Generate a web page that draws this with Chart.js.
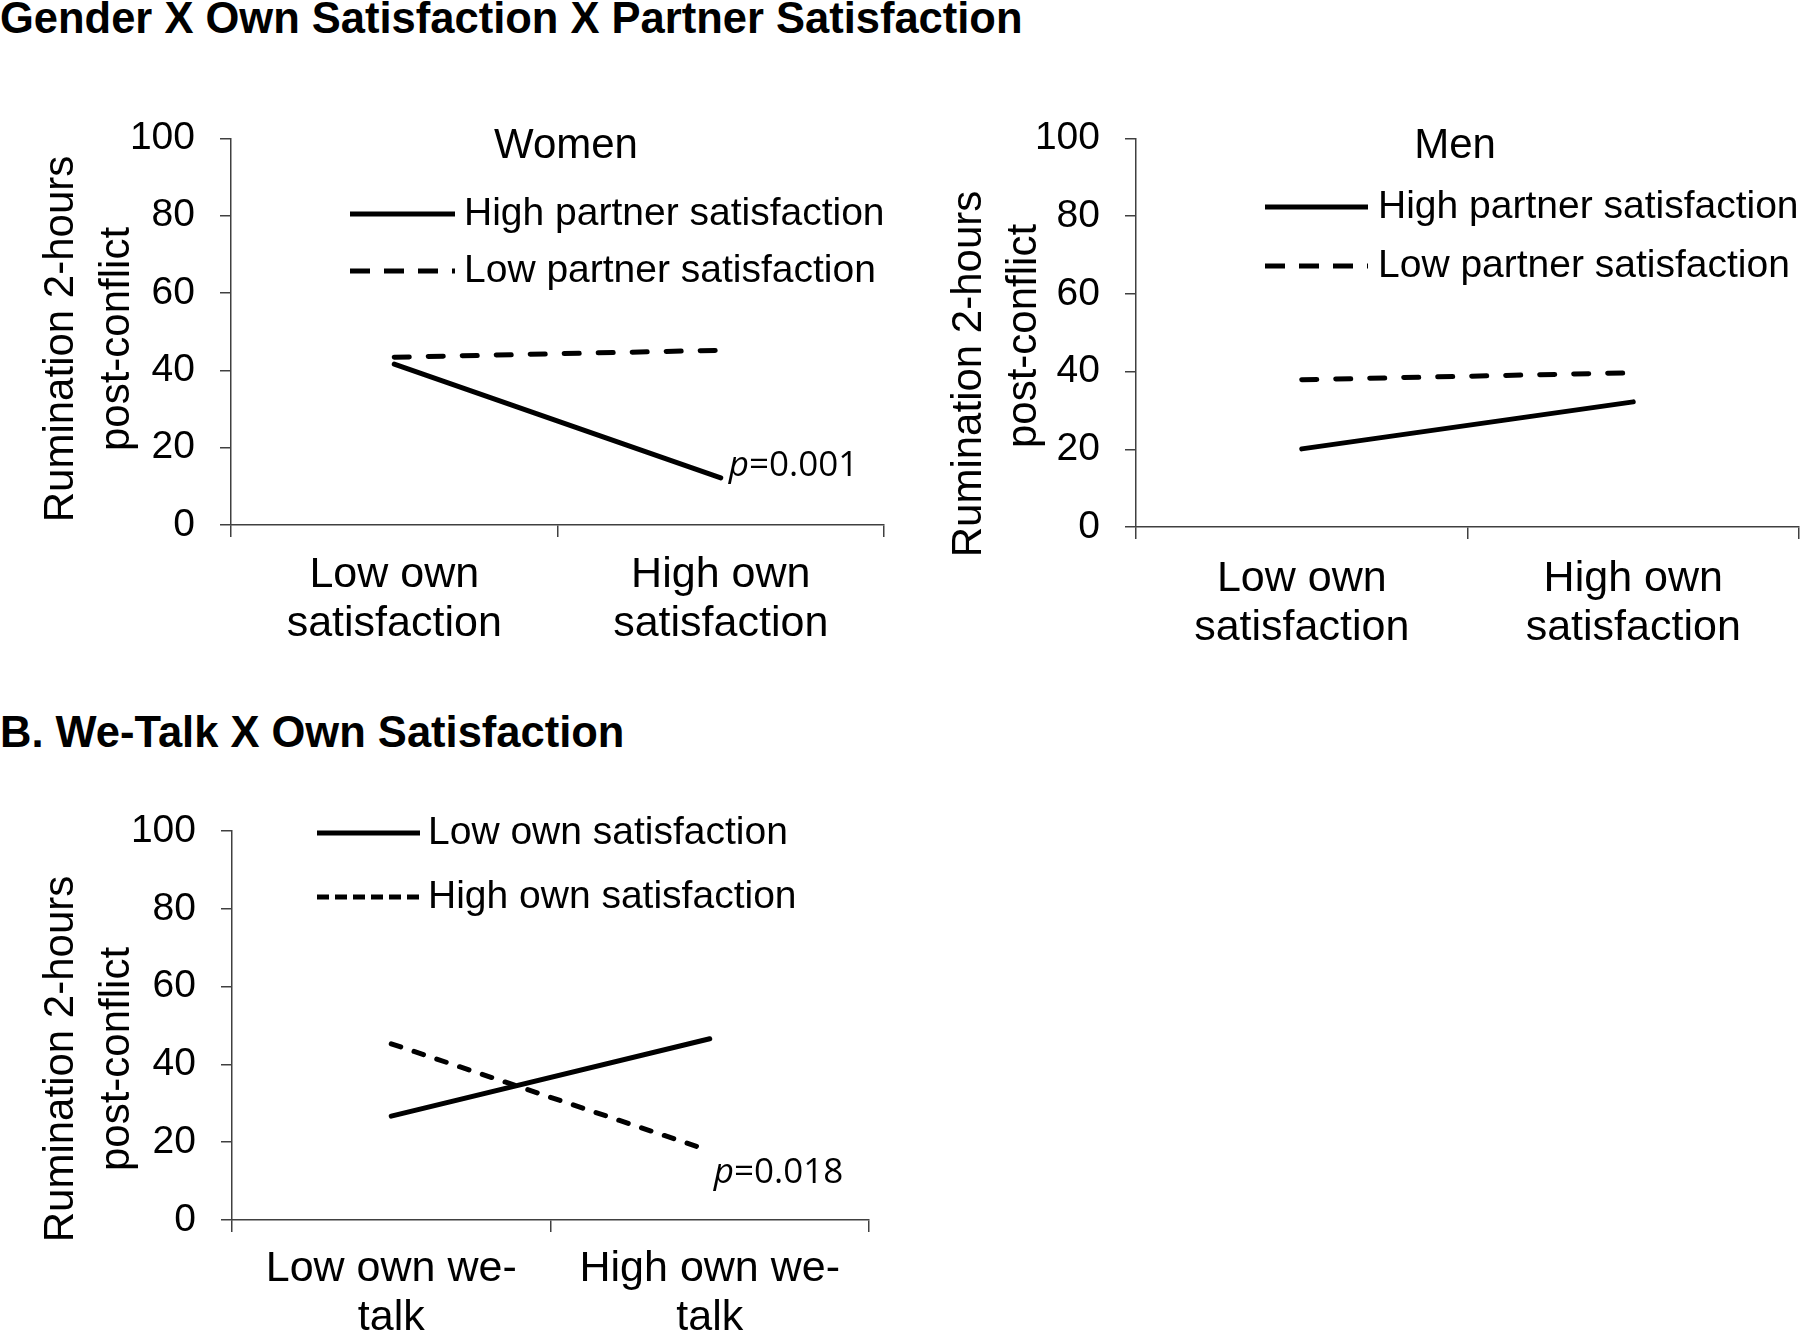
<!DOCTYPE html>
<html>
<head>
<meta charset="utf-8">
<script src="https://cdn.jsdelivr.net/npm/chart.js@4.4.0/dist/chart.umd.min.js"></script>
<style>
  html, body { margin: 0; padding: 0; background: #fff; }
  body { width: 1800px; height: 1334px; position: relative; overflow: hidden; }
  canvas { position: absolute; }
  .head {
    position: absolute; left: 0; margin: 0;
    font: bold 43.5px "Liberation Sans", Arial, sans-serif;
    line-height: 42px; color: #000; white-space: nowrap;
  }
</style>
</head>
<body>
<div class="head" style="top:-3px">Gender X Own Satisfaction X Partner Satisfaction</div>
<div class="head" style="top:711px">B. We-Talk X Own Satisfaction</div>
<canvas id="women" width="900" height="580" style="left:0;top:90px"></canvas>
<canvas id="men" width="900" height="580" style="left:900px;top:90px"></canvas>
<canvas id="wetalk" width="900" height="554" style="left:0;top:780px"></canvas>
<script>
"use strict";

// categories
const satCategories = [["Low own", "satisfaction"], ["High own", "satisfaction"]];
const weTalkCategories = [["Low own we-", "talk"], ["High own we-", "talk"]];

// series labels
const partnerLabels = ["High partner satisfaction", "Low partner satisfaction"];
const ownLabels = ["Low own satisfaction", "High own satisfaction"];
const yTitleLines = ["Rumination 2-hours", "post-conflict"];

// values
const womenHighPartner = [41.6, 12.2];
const womenLowPartner = [43.4, 45.2];
const menHighPartner = [20.1, 32.2];
const menLowPartner = [37.9, 39.7];
const weTalkLowOwn = [26.7, 46.6];
const weTalkHighOwn = [45.3, 17.8];

// y axis
const yMin = 0;
const yMax = 100;
const yStep = 20;

const FONT = '"Liberation Sans", Arial, sans-serif';
const AXIS = "#404040";

// draws panel title, legend, y title and the p annotation
const panelDecor = {
  id: "panelDecor",
  afterDraw(chart, args, opts) {
    const ctx = chart.ctx;
    const ox = opts.origin[0];
    const oy = opts.origin[1];
    ctx.save();
    ctx.fillStyle = "#000";
    ctx.strokeStyle = "#000";
    ctx.textBaseline = "middle";

    if (opts.title) {
      ctx.font = "42px " + FONT;
      ctx.textAlign = "center";
      ctx.fillText(opts.title.text, opts.title.x - ox, opts.title.y - oy);
    }

    ctx.font = "42px " + FONT;
    ctx.textAlign = "center";
    opts.yTitle.forEach((l, i) => {
      ctx.save();
      ctx.translate(l.x - ox, l.y - oy);
      ctx.rotate(-Math.PI / 2);
      ctx.fillText(yTitleLines[i], 0, 0);
      ctx.restore();
    });

    const lg = opts.legend;
    ctx.font = "39px " + FONT;
    ctx.textAlign = "left";
    chart.data.datasets.forEach((ds, i) => {
      const y = lg.rows[i] - oy;
      ctx.beginPath();
      ctx.lineWidth = lg.lineWidth;
      ctx.lineCap = "butt";
      ctx.setLineDash(lg.dashes[i]);
      ctx.moveTo(lg.x0 - ox, y);
      ctx.lineTo(lg.x1 - ox, y);
      ctx.stroke();
      ctx.setLineDash([]);
      ctx.fillText(ds.label, lg.textX - ox, y);
    });

    if (opts.pNote) {
      const pn = opts.pNote;
      const meta = chart.getDatasetMeta(pn.dataset);
      const pt = meta.data[pn.index];
      let x = pt.x + pn.dx;
      const y = pt.y + pn.dy;
      ctx.font = "italic 35px 'Open Sans', sans-serif";
      ctx.fillText("p", x, y);
      x += ctx.measureText("p").width;
      ctx.font = "35px 'Open Sans', sans-serif";
      ctx.fillText(pn.text, x, y);
    }
    ctx.restore();
  },
};

function lineSet(label, values, dash) {
  return {
    label: label,
    data: values,
    borderColor: "#000",
    backgroundColor: "#000",
    borderWidth: 5,
    borderDash: dash,
    borderCapStyle: "round",
    pointRadius: 0,
    fill: false,
    tension: 0,
  };
}

function buildPanel(id, cfg) {
  return new Chart(document.getElementById(id), {
    type: "line",
    data: {
      labels: cfg.labels,
      datasets: cfg.datasets,
    },
    plugins: [panelDecor],
    options: {
      responsive: false,
      animation: false,
      devicePixelRatio: 1,
      layout: { padding: { top: cfg.padTop, right: cfg.padRight, bottom: 0, left: 0 } },
      plugins: {
        legend: { display: false },
        tooltip: { enabled: false },
        panelDecor: cfg.decor,
      },
      scales: {
        x: {
          type: "category",
          offset: true,
          grid: {
            offset: true,
            drawOnChartArea: false,
            drawTicks: true,
            tickLength: 12,
            color: AXIS,
            lineWidth: 1.5,
          },
          border: { display: true, color: AXIS, width: 1.5 },
          ticks: {
            color: "#000",
            font: { family: FONT, size: 43, lineHeight: 1.15 },
            padding: cfg.xPad,
            maxRotation: 0,
            autoSkip: false,
          },
          afterFit: (s) => { s.height = cfg.xHeight; },
        },
        y: {
          min: yMin,
          max: yMax,
          grid: {
            drawOnChartArea: false,
            drawTicks: true,
            tickLength: 11,
            color: AXIS,
            lineWidth: 1.5,
          },
          border: { display: true, color: AXIS, width: 1.5 },
          ticks: {
            stepSize: yStep,
            color: "#000",
            font: { family: FONT, size: 39 },
            padding: 25,
          },
          afterFit: (s) => { s.width = cfg.yWidth; },
        },
      },
    },
  });
}

buildPanel("women", {
  labels: satCategories,
  datasets: [
    lineSet(partnerLabels[0], womenHighPartner, []),
    lineSet(partnerLabels[1], womenLowPartner, [15, 19]),
  ],
  padTop: 44, padRight: 16, xHeight: 145, yWidth: 231, xPad: 13,
  decor: {
    origin: [0, 90],
    title: { text: "Women", x: 566, y: 146 },
    yTitle: [{ x: 61, y: 339 }, { x: 117, y: 339 }],
    legend: { x0: 350, x1: 455, textX: 464, rows: [214, 271], lineWidth: 5, dashes: [[], [20, 14]] },
    pNote: { dataset: 0, index: 1, dx: 8, dy: -12, text: "=0.001" },
  },
});

buildPanel("men", {
  labels: satCategories,
  datasets: [
    lineSet(partnerLabels[0], menHighPartner, []),
    lineSet(partnerLabels[1], menLowPartner, [15, 19]),
  ],
  padTop: 43, padRight: 1, xHeight: 143, yWidth: 236, xPad: 15,
  decor: {
    origin: [900, 90],
    title: { text: "Men", x: 1455, y: 146 },
    yTitle: [{ x: 969, y: 374 }, { x: 1024, y: 336 }],
    legend: { x0: 1265, x1: 1368, textX: 1378, rows: [207, 266], lineWidth: 5, dashes: [[], [20, 14]] },
  },
});

buildPanel("wetalk", {
  labels: weTalkCategories,
  datasets: [
    lineSet(ownLabels[0], weTalkLowOwn, []),
    lineSet(ownLabels[1], weTalkHighOwn, [10, 14]),
  ],
  padTop: 51, padRight: 31, xHeight: 114, yWidth: 232, xPad: 12,
  decor: {
    origin: [0, 780],
    yTitle: [{ x: 61, y: 1059 }, { x: 117, y: 1059 }],
    legend: { x0: 317, x1: 420, textX: 428, rows: [833, 897], lineWidth: 5, dashes: [[], [12, 6]] },
    pNote: { dataset: 1, index: 1, dx: 4, dy: 22, text: "=0.018" },
  },
});
</script>
</body>
</html>
